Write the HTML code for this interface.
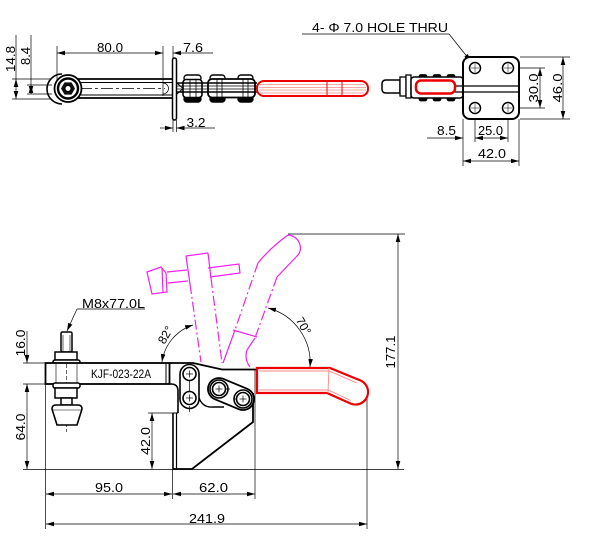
<!DOCTYPE html>
<html><head><meta charset="utf-8"><style>
html,body{margin:0;padding:0;background:#fff;}
svg{display:block;}
text{font-family:"Liberation Sans",sans-serif;fill:#000;}
</style></head><body>
<svg width="600" height="536" viewBox="0 0 600 536" xmlns="http://www.w3.org/2000/svg">
<defs>
<marker id="a" markerUnits="userSpaceOnUse" markerWidth="9" markerHeight="6" refX="8" refY="3" orient="auto-start-reverse"><path d="M0,0.7 L8,3 L0,5.3 z" fill="#000"/></marker>
</defs>
<rect width="600" height="536" fill="#fff"/>

<!-- ================= TOP-LEFT VIEW ================= -->
<g stroke="#000" fill="none" stroke-width="0.7">
  <line x1="57" y1="46" x2="57" y2="86"/>
  <line x1="163" y1="46" x2="163" y2="96"/>
  <line x1="173" y1="46" x2="173" y2="58"/>
  <line x1="12" y1="79" x2="50" y2="79"/>
  <line x1="12" y1="99" x2="50" y2="99"/>
  <line x1="27" y1="85" x2="52" y2="85"/>
  <line x1="27" y1="94" x2="52" y2="94"/>
  <line x1="16" y1="35" x2="16" y2="79"/>
  <line x1="31" y1="35" x2="31" y2="85"/>
  <line x1="16" y1="79" x2="16" y2="99" marker-start="url(#a)" marker-end="url(#a)"/>
  <line x1="31" y1="85" x2="31" y2="94" marker-start="url(#a)" marker-end="url(#a)"/>
  <line x1="57" y1="53" x2="163" y2="53" marker-start="url(#a)" marker-end="url(#a)"/>
  <line x1="213" y1="53" x2="173" y2="53" marker-end="url(#a)"/>
  <line x1="173" y1="120" x2="173" y2="132"/>
  <line x1="176.5" y1="120" x2="176.5" y2="132"/>
  <line x1="160" y1="128" x2="173" y2="128" marker-end="url(#a)"/>
  <line x1="215" y1="128" x2="176.5" y2="128" marker-end="url(#a)"/>
</g>
<g stroke="#000" fill="none">
  <path d="M62,74 A15,15 0 0 0 62,104" stroke-width="1.6"/>
  <line x1="62" y1="79" x2="173" y2="79" stroke-width="1.8"/>
  <line x1="62" y1="98" x2="173" y2="98" stroke-width="1.8"/>
  <line x1="75" y1="82.5" x2="173" y2="82.5" stroke-width="1"/>
  <line x1="75" y1="95" x2="173" y2="95" stroke-width="1"/>
  <line x1="80" y1="88.5" x2="165" y2="88.5" stroke-width="0.8" stroke-dasharray="12,3,3,3"/>
  <path d="M163,83 A5.5,5.5 0 0 1 163,94" stroke-width="0.7"/>
  <circle cx="68" cy="88.5" r="13.5" fill="#fff" stroke-width="1.8"/>
  <circle cx="68" cy="88.5" r="10" stroke-width="2.4"/>
  <polygon points="75,88.5 71.5,94.6 64.5,94.6 61,88.5 64.5,82.4 71.5,82.4" fill="#111" stroke="none"/>
  <circle cx="68" cy="88.5" r="3" fill="#fff" stroke-width="1"/>
  <rect x="172.5" y="58" width="4" height="62" rx="2" fill="#fff" stroke-width="1.5"/>
  <polyline points="177,83 183,88.5 177,94" stroke-width="1"/>
  <!-- links -->
  <rect x="184" y="75" width="17" height="6" rx="3" fill="#fff" stroke-width="1.4"/>
  <rect x="184" y="96" width="17" height="6" rx="3" fill="#000" stroke-width="1.4"/>
  <rect x="183" y="79.5" width="19" height="18" rx="3" fill="#fff" stroke-width="1.6"/>
  <rect x="210" y="75" width="15" height="6" rx="3" fill="#fff" stroke-width="1.4"/>
  <rect x="238" y="75" width="15" height="6" rx="3" fill="#fff" stroke-width="1.4"/>
  <rect x="210" y="96" width="15" height="6" rx="3" fill="#000" stroke-width="1.4"/>
  <rect x="238" y="96" width="15" height="6" rx="3" fill="#000" stroke-width="1.4"/>
  <rect x="208" y="79" width="47" height="18.5" rx="4" fill="#fff" stroke-width="1.8"/>
  <line x1="190" y1="79.5" x2="190" y2="97.5" stroke-width="0.8"/>
  <line x1="196" y1="79.5" x2="196" y2="97.5" stroke-width="0.8"/>
  <line x1="217" y1="79" x2="217" y2="97.5" stroke-width="0.8"/>
  <line x1="222" y1="79" x2="222" y2="97.5" stroke-width="0.8"/>
  <line x1="243" y1="79" x2="243" y2="97.5" stroke-width="0.8"/>
  <line x1="248" y1="79" x2="248" y2="97.5" stroke-width="0.8"/>
  <line x1="176" y1="83" x2="257" y2="83" stroke-width="1.4"/>
  <line x1="176" y1="86" x2="257" y2="86" stroke-width="0.8"/>
  <line x1="176" y1="89" x2="257" y2="89" stroke-width="0.8"/>
  <line x1="176" y1="92" x2="257" y2="92" stroke-width="1.4"/>
</g>
<!-- red handle top view -->
<g fill="none">
  <rect x="257" y="81" width="111" height="15" rx="7" fill="#fff" stroke="#ee0000" stroke-width="2"/>
  <g stroke="#ff8888" stroke-width="0.8">
    <line x1="259" y1="84.5" x2="364" y2="84.5"/>
    <line x1="259" y1="87.5" x2="366" y2="87.5"/>
    <line x1="259" y1="90" x2="366" y2="90"/>
    <line x1="259" y1="93" x2="364" y2="93"/>
  </g>
  <line x1="327" y1="81" x2="327" y2="96" stroke="#ee0000" stroke-width="1"/>
  <line x1="342" y1="81" x2="342" y2="96" stroke="#ee0000" stroke-width="1"/>
</g>

<!-- ================= TOP-RIGHT VIEW ================= -->
<g stroke="#000" fill="none" stroke-width="0.7">
  <line x1="302" y1="34" x2="449" y2="34"/>
  <line x1="449" y1="34" x2="471" y2="61.5" marker-end="url(#a)"/>
  <line x1="488" y1="82" x2="480" y2="72" marker-end="url(#a)"/>
  <line x1="520" y1="57" x2="570" y2="57"/>
  <line x1="520" y1="119" x2="570" y2="119"/>
  <line x1="512" y1="68" x2="545" y2="68"/>
  <line x1="512" y1="108" x2="545" y2="108"/>
  <line x1="540" y1="68" x2="540" y2="108" marker-start="url(#a)" marker-end="url(#a)"/>
  <line x1="563" y1="57" x2="563" y2="119" marker-start="url(#a)" marker-end="url(#a)"/>
  <line x1="463" y1="119" x2="463" y2="166"/>
  <line x1="519" y1="119" x2="519" y2="166"/>
  <line x1="475" y1="112" x2="475" y2="142"/>
  <line x1="508" y1="112" x2="508" y2="142"/>
  <line x1="427" y1="138" x2="463" y2="138" marker-end="url(#a)"/>
  <line x1="475" y1="138" x2="508" y2="138" marker-start="url(#a)" marker-end="url(#a)"/>
  <line x1="463" y1="161" x2="519" y2="161" marker-start="url(#a)" marker-end="url(#a)"/>
</g>
<g stroke="#000" fill="none">
  <path d="M400,80 L386,80 Q382,80 382,84 L382,89 Q382,93 386,93 L400,93 Z" fill="#fff" stroke-width="1.5"/>
  <rect x="400" y="77" width="6" height="19" fill="#fff" stroke-width="1.3"/>
  <rect x="406" y="75" width="5" height="23" fill="#fff" stroke-width="1.3"/>
  <rect x="419" y="74.5" width="8" height="4" rx="2" fill="#000" stroke-width="0.8"/>
  <rect x="433" y="74.5" width="8" height="4" rx="2" fill="#000" stroke-width="0.8"/>
  <rect x="447" y="74.5" width="8" height="4" rx="2" fill="#000" stroke-width="0.8"/>
  <rect x="419" y="97" width="8" height="4" rx="2" fill="#000" stroke-width="0.8"/>
  <rect x="433" y="97" width="8" height="4" rx="2" fill="#000" stroke-width="0.8"/>
  <rect x="447" y="97" width="8" height="4" rx="2" fill="#000" stroke-width="0.8"/>
  <rect x="411" y="77" width="52" height="21" rx="3" fill="#fff" stroke-width="1.5"/>
  <rect x="463" y="57" width="56" height="62" rx="7" fill="#fff" stroke-width="2"/>
  <line x1="455" y1="86" x2="519" y2="86" stroke-width="1.3"/>
  <line x1="455" y1="92" x2="519" y2="92" stroke-width="1.3"/>
  <g stroke-width="1.5">
    <circle cx="475" cy="68" r="5.5"/><circle cx="508" cy="68" r="5.5"/>
    <circle cx="475" cy="108" r="5.5"/><circle cx="508" cy="108" r="5.5"/>
  </g>
  <g stroke-width="0.5">
    <line x1="471" y1="68" x2="479" y2="68"/><line x1="475" y1="64" x2="475" y2="72"/>
    <line x1="504" y1="68" x2="512" y2="68"/><line x1="508" y1="64" x2="508" y2="72"/>
    <line x1="471" y1="108" x2="479" y2="108"/><line x1="475" y1="104" x2="475" y2="112"/>
    <line x1="504" y1="108" x2="512" y2="108"/><line x1="508" y1="104" x2="508" y2="112"/>
  </g>
</g>
<rect x="416" y="80.5" width="39" height="13" rx="5" fill="#fff" stroke="#ee0000" stroke-width="2.5"/>

<!-- ================= BOTTOM VIEW ================= -->
<!-- dimension lines -->
<g stroke="#000" fill="none" stroke-width="0.7">
  <line x1="23" y1="469.5" x2="404" y2="469.5"/>
  <line x1="288" y1="234" x2="405" y2="234"/>
  <line x1="23" y1="363" x2="46" y2="363"/>
  <line x1="23" y1="384" x2="46" y2="384"/>
  <line x1="27" y1="331" x2="27" y2="363" marker-end="url(#a)"/>
  <line x1="27" y1="384" x2="27" y2="469" marker-start="url(#a)" marker-end="url(#a)"/>
  <line x1="148" y1="413" x2="173" y2="413"/>
  <line x1="152" y1="413" x2="152" y2="469" marker-start="url(#a)" marker-end="url(#a)"/>
  <line x1="398" y1="234" x2="398" y2="469" marker-start="url(#a)" marker-end="url(#a)"/>
  <line x1="45.5" y1="384" x2="45.5" y2="529"/>
  <line x1="172.5" y1="469" x2="172.5" y2="499"/>
  <line x1="255" y1="370" x2="255" y2="499"/>
  <line x1="367" y1="398" x2="367" y2="529"/>
  <line x1="46" y1="494" x2="172" y2="494" marker-start="url(#a)" marker-end="url(#a)"/>
  <line x1="173" y1="494" x2="255" y2="494" marker-start="url(#a)" marker-end="url(#a)"/>
  <line x1="46" y1="524" x2="367" y2="524" marker-start="url(#a)" marker-end="url(#a)"/>
  <!-- leader M8 -->
  <line x1="77" y1="309" x2="145" y2="309"/>
  <line x1="77" y1="309" x2="67" y2="331" marker-end="url(#a)"/>
  <!-- angle arcs -->
  <path d="M193,325 A45.4,45.4 0 0 0 162,362" marker-start="url(#a)" marker-end="url(#a)"/>
  <path d="M268,308 A56.6,56.6 0 0 1 310,367" marker-start="url(#a)" marker-end="url(#a)"/>
</g>

<!-- magenta ghost handles -->
<g stroke="#ee22ee" fill="none" stroke-width="1.2">
  <polygon points="147,272 161,267 166,273 167,292 152,294"/>
  <line x1="162" y1="268" x2="163" y2="292"/>
  <polyline points="167,272 187,270"/>
  <polyline points="208,268 239,264 240,273 210,277"/>
  <polyline points="188,281 168,283"/>
  <polyline points="186,256 208,253"/>
  <line x1="186" y1="256" x2="190" y2="284"/>
  <line x1="190" y1="284" x2="201" y2="362" stroke-dasharray="10,3,2,3"/>
  <line x1="208" y1="253" x2="211" y2="278"/>
  <line x1="211" y1="278" x2="222" y2="363" stroke-dasharray="10,3,2,3"/>
  <path d="M288,235 Q270,248 258,263"/>
  <line x1="258" y1="263" x2="235" y2="330" stroke-dasharray="10,3,2,3"/>
  <line x1="235" y1="330" x2="223" y2="363"/>
  <path d="M288,235 C300,236 304,250 297,256 L277,277"/>
  <line x1="277" y1="277" x2="255" y2="338" stroke-dasharray="10,3,2,3"/>
  <path d="M255,338 L247,350 Q244,359 250,367"/>
  <line x1="233" y1="330" x2="257" y2="337"/>
</g>

<!-- clamp body -->
<g stroke="#000" fill="none">
  <!-- bolt -->
  <line x1="66.5" y1="345" x2="66.5" y2="432" stroke-width="0.6" stroke-dasharray="8,2,2,2"/>
  <rect x="61" y="332" width="11" height="20" rx="1.5" fill="#fff" stroke-width="1.5"/>
  <line x1="63" y1="335" x2="63" y2="352" stroke-width="0.6"/>
  <line x1="70" y1="335" x2="70" y2="352" stroke-width="0.6"/>
  <rect x="55" y="352" width="22" height="8" fill="#fff" stroke-width="1.5"/>
  <rect x="53" y="360" width="27" height="4" rx="2" fill="#fff" stroke-width="1.5"/>
  <!-- arm -->
  <rect x="45.5" y="363" width="124" height="21" fill="#fff" stroke-width="1.8"/>
  <line x1="166" y1="363" x2="166" y2="384" stroke-width="1"/>
  <line x1="169.5" y1="363" x2="169.5" y2="384" stroke-width="1"/>
  <line x1="56" y1="364" x2="56" y2="383" stroke-width="0.6"/>
  <line x1="77" y1="364" x2="77" y2="383" stroke-width="0.6"/>
  <line x1="66.5" y1="364" x2="66.5" y2="383" stroke-width="0.6" stroke-dasharray="4,2"/>
  <rect x="53" y="383" width="27" height="5" rx="2" fill="#fff" stroke-width="1.5"/>
  <rect x="55" y="388" width="22" height="10" fill="#fff" stroke-width="1.5"/>
  <rect x="61" y="398" width="11" height="7" fill="#fff" stroke-width="1.5"/>
  <path d="M56,405 L78,405 Q82,405 82,409 L77,425 L57,425 L52,409 Q52,405 56,405 Z" fill="#fff" stroke-width="1.6"/>
  <line x1="53" y1="410" x2="81" y2="410" stroke-width="0.6"/>
  <!-- arm right end and base plate -->
  <path d="M169.5,384 L171,384 Q178,384 178,391 L178,413" stroke-width="1.6"/>
  <line x1="173" y1="413" x2="173" y2="469" stroke-width="1.6"/>
  <line x1="176.5" y1="413" x2="176.5" y2="469" stroke-width="1.2"/>
  <line x1="173" y1="413" x2="178" y2="413" stroke-width="1"/>
  <polyline points="173,469 192,469 253,422 253,393" stroke-width="1.8"/>
  <!-- top profile -->
  <polyline points="169.5,363 193,363 222,369.5 257,369.5" stroke-width="1.8"/>
  <!-- left link plate -->
  <rect x="180" y="364.5" width="19" height="44" rx="9.5" fill="#fff" stroke-width="1.6"/>
  <path d="M199,398 Q203,408 213,407 L224,407" stroke-width="1.4"/>
  <!-- right link -->
  <g transform="translate(231,394) rotate(22.6)">
    <rect x="-24" y="-11" width="48" height="22" rx="11" fill="#fff" stroke-width="1.8"/>
  </g>
  <g stroke-width="1.6" fill="#fff">
    <circle cx="189.5" cy="374" r="6.5"/>
    <circle cx="189.5" cy="398" r="6.5"/>
    <circle cx="219" cy="389" r="9"/>
    <circle cx="219" cy="389" r="6.5"/>
    <circle cx="243" cy="399" r="9"/>
    <circle cx="243" cy="399" r="6.5"/>
  </g>
  <g stroke-width="0.7">
    <line x1="186" y1="374" x2="193" y2="374"/><line x1="189.5" y1="370.5" x2="189.5" y2="377.5"/>
    <line x1="186" y1="398" x2="193" y2="398"/><line x1="189.5" y1="394.5" x2="189.5" y2="401.5"/>
    <line x1="215.5" y1="389" x2="222.5" y2="389"/><line x1="219" y1="385.5" x2="219" y2="392.5"/>
    <line x1="239.5" y1="399" x2="246.5" y2="399"/><line x1="243" y1="395.5" x2="243" y2="402.5"/>
    <line x1="189.5" y1="381" x2="189.5" y2="391"/>
    <line x1="189.5" y1="406" x2="189.5" y2="412"/>
    <line x1="225" y1="389" x2="230" y2="389"/>
    <line x1="234" y1="399" x2="237" y2="399"/>
  </g>
</g>

<!-- red handle side view -->
<g fill="none">
  <path d="M257,368 L330,368 L360.5,380.5 A12.5,12.5 0 0 1 350.5,403.5 L327,393 L257,393 Z" fill="#fff" stroke="#ee0000" stroke-width="2.2"/>
  <path d="M259,371 L329,371 L357,383" stroke="#ff8888" stroke-width="0.9"/>
  <path d="M259,390 L328,390 L351,400.5" stroke="#ff8888" stroke-width="0.9"/>
  <line x1="329" y1="368" x2="328" y2="393" stroke="#ff8888" stroke-width="0.9"/>
</g>

<!-- ================= TEXT ================= -->
<g font-size="13">
  <text x="110" y="52" text-anchor="middle" textLength="26" lengthAdjust="spacingAndGlyphs">80.0</text>
  <text x="193" y="52" text-anchor="middle" textLength="20" lengthAdjust="spacingAndGlyphs">7.6</text>
  <text x="196" y="127" text-anchor="middle" textLength="19" lengthAdjust="spacingAndGlyphs">3.2</text>
  <text transform="translate(15,59) rotate(-90)" text-anchor="middle" textLength="26" lengthAdjust="spacingAndGlyphs">14.8</text>
  <text transform="translate(30,56) rotate(-90)" text-anchor="middle" textLength="18" lengthAdjust="spacingAndGlyphs">8.4</text>
  <text x="312" y="32" font-size="12.5" textLength="136" lengthAdjust="spacingAndGlyphs">4- Φ 7.0 HOLE THRU</text>
  <text transform="translate(538,88) rotate(-90)" text-anchor="middle" textLength="29" lengthAdjust="spacingAndGlyphs">30.0</text>
  <text transform="translate(562,88) rotate(-90)" text-anchor="middle" textLength="29" lengthAdjust="spacingAndGlyphs">46.0</text>
  <text x="446.5" y="135" text-anchor="middle" textLength="19" lengthAdjust="spacingAndGlyphs">8.5</text>
  <text x="490.5" y="135" text-anchor="middle" textLength="25" lengthAdjust="spacingAndGlyphs">25.0</text>
  <text x="492" y="158" text-anchor="middle" textLength="28" lengthAdjust="spacingAndGlyphs">42.0</text>
  <text x="82" y="308" textLength="63" lengthAdjust="spacingAndGlyphs">M8x77.0L</text>
  <text x="91" y="378" font-size="11.5" textLength="60" lengthAdjust="spacingAndGlyphs">KJF-023-22A</text>
  <text transform="translate(25,343) rotate(-90)" text-anchor="middle" textLength="27" lengthAdjust="spacingAndGlyphs">16.0</text>
  <text transform="translate(25,427) rotate(-90)" text-anchor="middle" textLength="27" lengthAdjust="spacingAndGlyphs">64.0</text>
  <text transform="translate(150,441) rotate(-90)" text-anchor="middle" textLength="28" lengthAdjust="spacingAndGlyphs">42.0</text>
  <text transform="translate(395,352) rotate(-90)" text-anchor="middle" textLength="33" lengthAdjust="spacingAndGlyphs">177.1</text>
  <text transform="translate(169,337) rotate(-60)" text-anchor="middle" font-size="12">82°</text>
  <text transform="translate(300,328) rotate(60)" text-anchor="middle" font-size="12">70°</text>
  <text x="109" y="492" text-anchor="middle" textLength="28" lengthAdjust="spacingAndGlyphs">95.0</text>
  <text x="213.5" y="492" text-anchor="middle" textLength="29" lengthAdjust="spacingAndGlyphs">62.0</text>
  <text x="207" y="523" text-anchor="middle" textLength="36" lengthAdjust="spacingAndGlyphs">241.9</text>
</g>
</svg>
</body></html>
